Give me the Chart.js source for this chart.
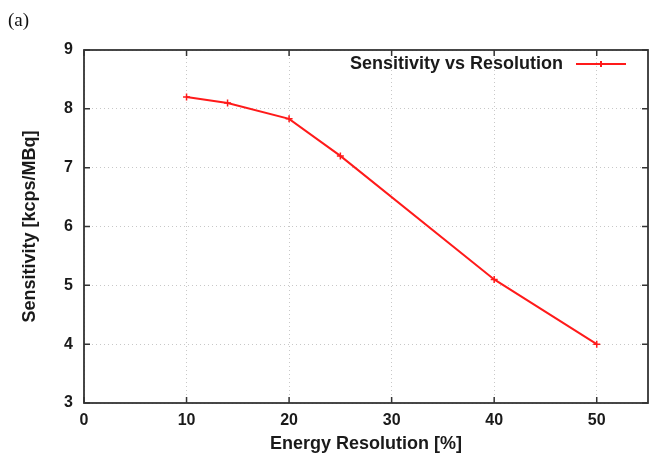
<!DOCTYPE html>
<html>
<head>
<meta charset="utf-8">
<script src="https://cdn.jsdelivr.net/npm/chart.js@4"></script>
<style>
html,body{margin:0;padding:0;background:#fff;}
#wrap{width:649px;height:454px;position:relative;}
</style>
</head>
<body>
<div id="wrap"><canvas id="c" width="649" height="454"></canvas></div>
<script>
const panelLabel = "(a)";
const seriesLabel = "Sensitivity vs Resolution";
const xTitle = "Energy Resolution [%]";
const yTitle = "Sensitivity [kcps/MBq]";
const resolution = [10, 14, 20, 25, 40, 50];
const sensitivity = [8.2, 8.1, 7.83, 7.2, 5.1, 4.0];
const xRange = [0, 55];
const yRange = [3, 9];

const FONT = "'Liberation Sans', Arial, Helvetica, sans-serif";

const framePlugin = {
  id: 'frame',
  afterDraw(chart) {
    const ctx = chart.ctx;
    const a = chart.chartArea;
    const xs = chart.scales.x, ys = chart.scales.y;
    ctx.save();
    ctx.strokeStyle = '#333';
    ctx.lineWidth = 1.5;
    ctx.beginPath();
    const tl = 6;
    xs.ticks.forEach(t => {
      if (t.value > 50) return;
      const px = xs.getPixelForValue(t.value);
      ctx.moveTo(px, a.bottom); ctx.lineTo(px, a.bottom - tl);
      ctx.moveTo(px, a.top); ctx.lineTo(px, a.top + tl);
    });
    ys.ticks.forEach(t => {
      const py = ys.getPixelForValue(t.value);
      ctx.moveTo(a.left, py); ctx.lineTo(a.left + tl, py);
      ctx.moveTo(a.right, py); ctx.lineTo(a.right - tl, py);
    });
    ctx.stroke();
    ctx.lineWidth = 1.8;
    ctx.strokeRect(a.left, a.top, a.right - a.left, a.bottom - a.top);
    // panel label
    ctx.fillStyle = '#111';
    ctx.font = "19px 'Liberation Serif', 'DejaVu Serif', serif";
    ctx.textBaseline = 'middle';
    ctx.textAlign = 'left';
    ctx.fillText(panelLabel, 8, 21);
    // legend
    const ds = chart.data.datasets[0];
    ctx.font = "bold 18px " + FONT;
    ctx.textAlign = 'right';
    ctx.fillStyle = '#1a1a1a';
    ctx.fillText(ds.label, 563, 64);
    ctx.strokeStyle = ds.borderColor;
    ctx.lineWidth = 2;
    ctx.beginPath();
    ctx.moveTo(576, 64); ctx.lineTo(626, 64);
    ctx.stroke();
    ctx.beginPath();
    ctx.moveTo(601, 61); ctx.lineTo(601, 67);
    ctx.moveTo(598, 64); ctx.lineTo(604, 64);
    ctx.stroke();
    ctx.restore();
  }
};

new Chart(document.getElementById('c'), {
  type: 'line',
  data: {
    datasets: [{
      label: seriesLabel,
      data: resolution.map((x, i) => ({x: x, y: sensitivity[i]})),
      borderColor: '#ff1a1a',
      backgroundColor: '#ff1a1a',
      borderWidth: 2,
      pointStyle: 'cross',
      pointRadius: 3.5,
      pointBorderWidth: 1.5,
      tension: 0,
      fill: false
    }]
  },
  options: {
    responsive: false,
    animation: false,
    layout: { autoPadding: false, padding: { left: 0, top: 50, right: 1, bottom: 0 } },
    plugins: { legend: { display: false }, tooltip: { enabled: false } },
    scales: {
      x: {
        type: 'linear',
        min: xRange[0], max: xRange[1],
        afterFit(s) { s.height = 51; s.paddingRight = 0; s.paddingLeft = 0; },
        ticks: { stepSize: 10, includeBounds: false, padding: 8, color: '#1a1a1a', font: { family: FONT, size: 16, weight: 'bold' } },
        grid: { color: '#c8c8c8', lineWidth: 1, drawTicks: false },
        border: { display: false, dash: [1, 3] },
        title: { display: true, text: xTitle, color: '#1a1a1a', font: { family: FONT, size: 18, weight: 'bold' },
                 padding: { top: 0, bottom: -1 } }
      },
      y: {
        type: 'linear',
        min: yRange[0], max: yRange[1],
        afterFit(s) { s.width = 84; s.paddingTop = 0; s.paddingBottom = 0; },
        ticks: { stepSize: 1, padding: 11, color: '#1a1a1a', font: { family: FONT, size: 16, weight: 'bold' } },
        grid: { color: '#c8c8c8', lineWidth: 1, drawTicks: false },
        border: { display: false, dash: [1, 3] },
        title: { display: true, text: yTitle, color: '#1a1a1a', font: { family: FONT, size: 18, weight: 'bold' },
                 padding: { top: 19, bottom: 0 } }
      }
    }
  },
  plugins: [framePlugin]
});
</script>
</body>
</html>
